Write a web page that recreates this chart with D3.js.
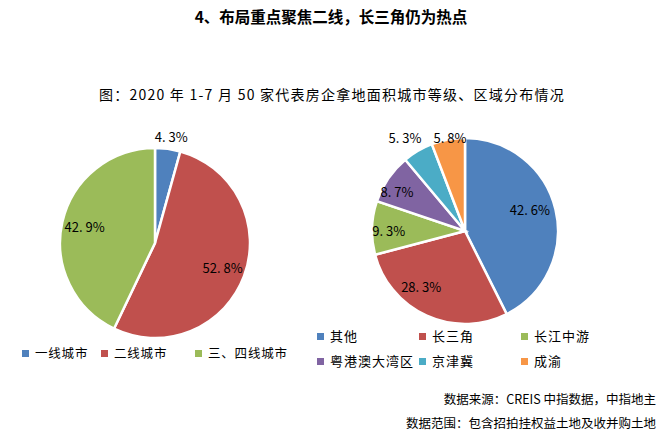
<!DOCTYPE html>
<html><head><meta charset="utf-8">
<script src="https://cdn.jsdelivr.net/npm/d3@7"></script>
<style>body{margin:0;background:#fff}</style>
</head><body><svg id="c" width="662" height="437"></svg>
<script>
const title = "4、布局重点聚焦二线，长三角仍为热点";
const subtitle = "图：2020 年 1-7 月 50 家代表房企拿地面积城市等级、区域分布情况";
const leftCategories = ["一线城市", "二线城市", "三、四线城市"];
const leftValues = [4.3, 52.8, 42.9];
const rightCategories = ["其他", "长三角", "长江中游", "粤港澳大湾区", "京津冀", "成渝"];
const rightValues = [42.6, 28.3, 9.3, 8.7, 5.3, 5.8];
const notes = ["数据来源：CREIS 中指数据，中指地主", "数据范围：包含招拍挂权益土地及收并购土地"];

const colors = ["#4F81BD", "#C0504D", "#9BBB59", "#8064A2", "#4BACC6", "#F79646"];
const font = "'Noto Sans CJK SC', 'Noto Sans', sans-serif";
const svg = d3.select("#c");

svg.append("text").attr("x", 331).attr("y", 23).attr("text-anchor", "middle")
  .attr("font-family", font).attr("font-weight", "bold").attr("font-size", 15.5).attr("fill", "#000").text(title);
svg.append("text").attr("x", 332).attr("y", 100).attr("text-anchor", "middle")
  .attr("font-family", font).attr("font-size", 14).attr("letter-spacing", 1.25).attr("fill", "#000").text(subtitle);

// label placement style: radius factor and angular nudge (degrees)
function drawPie(cx, cy, r, vals, labelR, labelNudge) {
  const g = svg.append("g").attr("transform", `translate(${cx},${cy})`);
  const pie = d3.pie().sort(null).value(d => d)(vals);
  const arc = d3.arc().innerRadius(0).outerRadius(r);
  g.selectAll("path").data(pie).join("path")
    .attr("d", arc).attr("fill", (d, i) => colors[i])
    .attr("stroke", "#fff").attr("stroke-width", 2.5);
  g.selectAll("text.lbl").data(pie).join("text").attr("class", "lbl")
    .attr("transform", (d, i) => {
      const a = (d.startAngle + d.endAngle) / 2 + labelNudge[i] * Math.PI / 180;
      const rr = r * labelR[i];
      return `translate(${Math.sin(a) * rr},${-Math.cos(a) * rr})`;
    })
    .attr("text-anchor", "middle").attr("dy", "0.35em")
    .attr("font-family", font).attr("font-size", 13).attr("fill", "#000")
    .text(d => d.data.toFixed(1).replace(".", ". ") + "%");
}
drawPie(155, 243, 95, leftValues, [1.12, 0.76, 0.76], [1, 0, 0]);
drawPie(465, 231, 93, rightValues, [0.73, 0.77, 0.82, 0.84, 1.19, 1.01], [-4, 13.4, -2, -5, -2.4, 1.2]);

// Left legend
const leftLegendX = [22, 101, 195];
leftCategories.forEach((c, i) => {
  svg.append("rect").attr("x", leftLegendX[i]).attr("y", 350).attr("width", 7).attr("height", 7).attr("fill", colors[i]);
  svg.append("text").attr("x", leftLegendX[i] + 13).attr("y", 358).attr("font-family", font)
    .attr("font-size", 12.5).attr("letter-spacing", 0.8).attr("fill", "#000").text(c);
});
// Right legend
const rColX = [317, 419, 521], rRowY = [337, 362];
rightCategories.forEach((c, i) => {
  const x = rColX[i % 3], y = rRowY[Math.floor(i / 3)];
  svg.append("rect").attr("x", x).attr("y", y - 4).attr("width", 7).attr("height", 7).attr("fill", colors[i]);
  svg.append("text").attr("x", x + 13).attr("y", y + 4).attr("font-family", font)
    .attr("font-size", 13).attr("letter-spacing", 1).attr("fill", "#000").text(c);
});
notes.forEach((n, i) => {
  svg.append("text").attr("x", 656).attr("y", 404 + i * 24).attr("text-anchor", "end")
    .attr("font-family", font).attr("font-size", 12.5).attr("fill", "#000").text(n);
});
</script></body></html>
